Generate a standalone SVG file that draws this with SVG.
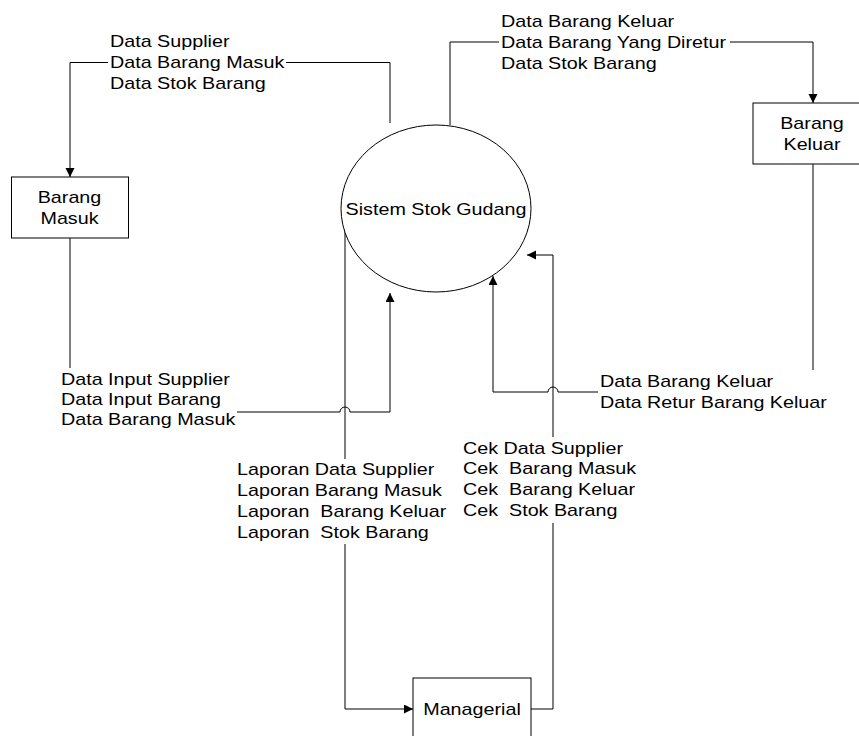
<svg xmlns="http://www.w3.org/2000/svg" width="859" height="736" viewBox="0 0 859 736">
<style>
  .t { font-family: "Liberation Sans", Arial, sans-serif; font-size: 17px; fill: #000; }
  .c { text-anchor: middle; }
  .box { fill: #fff; stroke: #000; stroke-width: 1; }
  .ln { fill: none; stroke: #000; stroke-width: 1; }
</style>
<defs>
  <marker id="arr" markerUnits="userSpaceOnUse" markerWidth="10" markerHeight="10" refX="9" refY="4.5" orient="auto">
    <path d="M0,0 L9,4.5 L0,9 z" fill="#000"/>
  </marker>
</defs>
<rect width="859" height="736" fill="#fff"/>

<g id="connectors">
  <path class="ln" d="M390,123 V62.5 H286 M108,62.5 H70 V177" marker-end="url(#arr)"/>
  <path class="ln" d="M450,125 V42 H499 M730,42 H813 V103" marker-end="url(#arr)"/>
  <path class="ln" d="M70,238 V368 M237,412 H340 a5,5 0 0 1 10,0 H390 V293" marker-end="url(#arr)"/>
  <path class="ln" d="M813,164 V370 M598,392 H558 a5,5 0 0 0 -10,0 H493 V276" marker-end="url(#arr)"/>
  <path class="ln" d="M345,224 V459 M345,544 V709 H413" marker-end="url(#arr)"/>
  <path class="ln" d="M531,709 H553 V523 M553,437 V255 H527" marker-end="url(#arr)"/>
  <g id="labels">
    <text class="t" transform="translate(110,47) scale(1.16,1)"><tspan x="0">Data Supplier</tspan><tspan x="0" dy="21">Data Barang Masuk</tspan><tspan x="0" dy="21">Data Stok Barang</tspan></text>
    <text class="t" transform="translate(501,27) scale(1.16,1)"><tspan x="0">Data Barang Keluar</tspan><tspan x="0" dy="21">Data Barang Yang Diretur</tspan><tspan x="0" dy="21">Data Stok Barang</tspan></text>
    <text class="t" transform="translate(61,384.5) scale(1.16,1)"><tspan x="0">Data Input Supplier</tspan><tspan x="0" dy="20.5">Data Input Barang</tspan><tspan x="0" dy="20.5">Data Barang Masuk</tspan></text>
    <text class="t" transform="translate(600,387) scale(1.16,1)"><tspan x="0">Data Barang Keluar</tspan><tspan x="0" dy="21">Data Retur Barang Keluar</tspan></text>
    <text class="t" xml:space="preserve" transform="translate(237,475) scale(1.16,1)"><tspan x="0">Laporan Data Supplier</tspan><tspan x="0" dy="21">Laporan Barang Masuk</tspan><tspan x="0" dy="21">Laporan  Barang Keluar</tspan><tspan x="0" dy="21">Laporan  Stok Barang</tspan></text>
    <text class="t" xml:space="preserve" transform="translate(463,453.5) scale(1.16,1)"><tspan x="0">Cek Data Supplier</tspan><tspan x="0" dy="21">Cek  Barang Masuk</tspan><tspan x="0" dy="21">Cek  Barang Keluar</tspan><tspan x="0" dy="21">Cek  Stok Barang</tspan></text>
  </g>
</g>

<g id="node-barang-masuk">
  <rect class="box" x="11.5" y="177" width="117" height="61"/>
  <text class="t c" transform="translate(69.5,203) scale(1.16,1)"><tspan x="0">Barang</tspan><tspan x="0" dy="21">Masuk</tspan></text>
</g>

<g id="node-barang-keluar">
  <rect class="box" x="753" y="103" width="118" height="61"/>
  <text class="t c" transform="translate(812,129) scale(1.16,1)"><tspan x="0">Barang</tspan><tspan x="0" dy="21">Keluar</tspan></text>
</g>

<g id="node-sistem-stok-gudang">
  <ellipse class="box" cx="436" cy="208.5" rx="95" ry="83.5"/>
  <text class="t c" transform="translate(436,214.5) scale(1.16,1)">Sistem Stok Gudang</text>
</g>

<g id="node-managerial">
  <rect class="box" x="413" y="678" width="118" height="62"/>
  <text class="t c" transform="translate(472,715) scale(1.16,1)">Managerial</text>
</g>
</svg>
